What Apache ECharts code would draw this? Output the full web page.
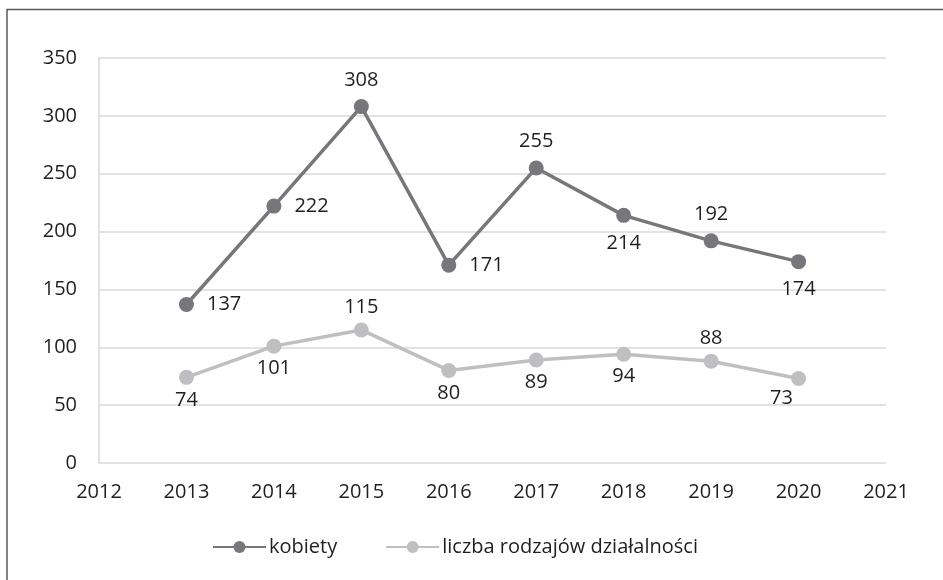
<!DOCTYPE html>
<html>
<head>
<meta charset="utf-8">
<script src="https://cdn.jsdelivr.net/npm/echarts@6/dist/echarts.min.js"></script>
<style>html,body{margin:0;padding:0;background:#fff}#c{width:943px;height:580px}</style>
</head>
<body>
<div id="c"></div>
<script>
var years = [2013, 2014, 2015, 2016, 2017, 2018, 2019, 2020];
var kobiety = [137, 222, 308, 171, 255, 214, 192, 174];
var rodzaje = [74, 101, 115, 80, 89, 94, 88, 73];
var kobietyLabelPos = ['right', 'right', 'top', 'right', 'top', 'bottom', 'top', 'bottom'];
var rodzajeLabelPos = ['bottom', 'bottom', 'top', 'bottom', 'bottom', 'bottom', 'top', 'bottom'];
var seriesNames = ['kobiety', 'liczba rodzajów działalności'];

var FONT = 'Open Sans';
var FS = 20;
function mk(vals, pos, distFor) {
  return vals.map(function (v, i) {
    var lab = { position: pos[i], distance: distFor(pos[i]) };
    return { value: [years[i], v], label: lab };
  });
}
var rodzajeData = mk(rodzaje, rodzajeLabelPos, function (p) { return p === 'top' ? 5 : 5; });
rodzajeData[7].label.offset = [-17, -3];
var chart = echarts.init(document.getElementById('c'), null, { renderer: 'canvas' });
chart.setOption({
  animation: false,
  textStyle: { fontFamily: FONT },
  graphic: [{
    type: 'rect', shape: { x: 7, y: 9.5, width: 960, height: 600 },
    style: { fill: 'none', stroke: '#595959', lineWidth: 1.5 }, silent: true
  }],
  grid: { left: 99, right: 57, top: 58, bottom: 117, containLabel: false },
  legend: {
    top: 532, left: 207, itemWidth: 53, itemHeight: 15, itemGap: 48,
    textStyle: { fontSize: FS, color: '#1f1f1f', fontFamily: FONT, padding: [0, 0, 0, -2] },
    data: seriesNames
  },
  xAxis: {
    type: 'value', min: 2012, max: 2021, interval: 1,
    axisLine: { show: false }, axisTick: { show: false }, splitLine: { show: false },
    axisLabel: { fontSize: FS, color: '#1f1f1f', margin: 19,
      formatter: function (v) { return String(v); } }
  },
  yAxis: {
    type: 'value', min: 0, max: 350, interval: 50,
    axisLine: { show: true, lineStyle: { color: '#d9d9d9', width: 1.5 } }, axisTick: { show: false },
    splitLine: { lineStyle: { color: '#d9d9d9', width: 1.5 } },
    axisLabel: { fontSize: FS, color: '#1f1f1f', margin: 22 }
  },
  series: [{
    name: seriesNames[0], type: 'line',
    data: mk(kobiety, kobietyLabelPos, function (p) { return p === 'top' ? 9 : (p === 'right' ? 13 : 10); }),
    symbol: 'circle', symbolSize: 15,
    lineStyle: { color: '#77777b', width: 3.5 }, itemStyle: { color: '#77777b' },
    label: { show: true, fontSize: FS, color: '#1f1f1f',
      formatter: function (p) { return p.value[1]; } }
  }, {
    name: seriesNames[1], type: 'line', data: rodzajeData,
    symbol: 'circle', symbolSize: 15,
    lineStyle: { color: '#bfbfc1', width: 3.5 }, itemStyle: { color: '#bfbfc1' },
    label: { show: true, fontSize: FS, color: '#1f1f1f',
      formatter: function (p) { return p.value[1]; } }
  }]
});
</script>
</body>
</html>
